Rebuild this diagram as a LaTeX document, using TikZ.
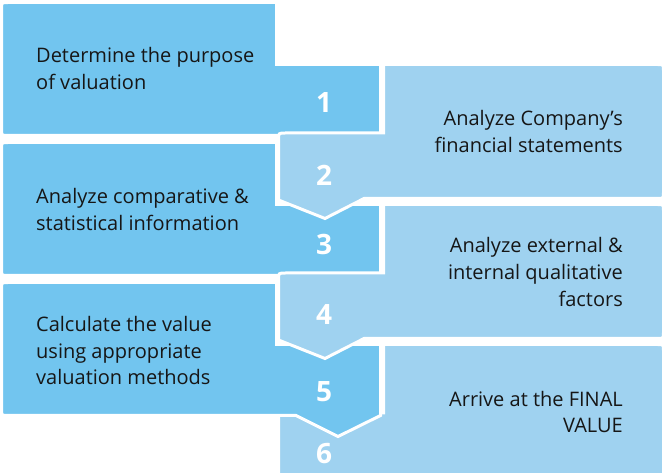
\documentclass[tikz,border=0pt]{standalone}
\usepackage{fontspec}
\setmainfont{Open Sans}
\definecolor{dkblue}{RGB}{114,197,239}
\definecolor{ltblue}{RGB}{159,210,240}
\definecolor{txt}{RGB}{22,22,22}
\begin{document}
\begin{tikzpicture}[x=1pt,y=-1pt,
  darkshape/.style={fill=dkblue,draw=white,line width=3pt,line join=miter},
  lightshape/.style={fill=ltblue,draw=white,line width=3pt,line join=miter},
  lefttext/.style={anchor=base west,align=left,inner sep=0pt,text=txt,font=\fontsize{20}{27}\selectfont},
  righttext/.style={anchor=base east,align=right,inner sep=0pt,text=txt,font=\fontsize{20}{27}\selectfont},
  numtext/.style={anchor=center,inner sep=0pt,text=white,font=\fontsize{28}{30}\selectfont\bfseries}]
\useasboundingbox (0,0) rectangle (665,473);
% light shape 6 (bottom, below dark 5)
\path[lightshape] (383.5,344.5) -- (657.5,344.5) .. controls (663.5,344.5) .. (663.5,350.5)
  -- (663.5,482) -- (278.5,482) -- (278.5,420) .. controls (278.5,413) .. (285.5,413) -- (383.5,413) -- cycle;
% dark shapes 1, 3, 5
\foreach \dy in {0,140,280}{
  \path[darkshape] (1.5,{9+\dy}) .. controls (1.5,{2.5+\dy}) .. (8,{2.5+\dy})
    -- (276.5,{2.5+\dy}) -- (276.5,{64.5+\dy}) -- (380.5,{64.5+\dy}) -- (380.5,{135.5+\dy})
    -- (338,{156.5+\dy}) -- (296,{135.5+\dy}) -- (8,{135.5+\dy})
    .. controls (1.5,{135.5+\dy}) .. (1.5,{129+\dy}) -- cycle;
}
% light shapes 2, 4
\foreach \dy in {0,140}{
  \path[lightshape] (383.5,{64.5+\dy}) -- (657.5,{64.5+\dy}) .. controls (663.5,{64.5+\dy}) .. (663.5,{70.5+\dy})
    -- (663.5,{192.5+\dy}) .. controls (663.5,{198.5+\dy}) .. (657.5,{198.5+\dy})
    -- (364,{198.5+\dy}) -- (325,{218.5+\dy}) -- (278.5,{200+\dy})
    -- (278.5,{140+\dy}) .. controls (278.5,{133+\dy}) .. (285.5,{133+\dy}) -- (383.5,{133+\dy}) -- cycle;
}
% texts (anchor = baseline of the last line)
\node[lefttext] (t1) at (36,90) {Determine the purpose\\of valuation};
\node[righttext] (t2) at (623,153) {Analyze Company’s\\financial statements};
\node[lefttext] (t3) at (36,231) {Analyze comparative \&\\statistical information};
\node[righttext] (t4) at (623,307) {Analyze external \&\\internal qualitative\\factors};
\node[lefttext] (t5) at (36,385) {Calculate the value\\using appropriate\\valuation methods};
\node[righttext] (t6) at (623,433) {Arrive at the FINAL\\VALUE};
% numbers
\node[numtext] (n1) at (324,103) {1};
\node[numtext] (n2) at (324,175) {2};
\node[numtext] (n3) at (324,245) {3};
\node[numtext] (n4) at (324,315) {4};
\node[numtext] (n5) at (324,392) {5};
\node[numtext] (n6) at (324,454) {6};
\end{tikzpicture}
\end{document}
